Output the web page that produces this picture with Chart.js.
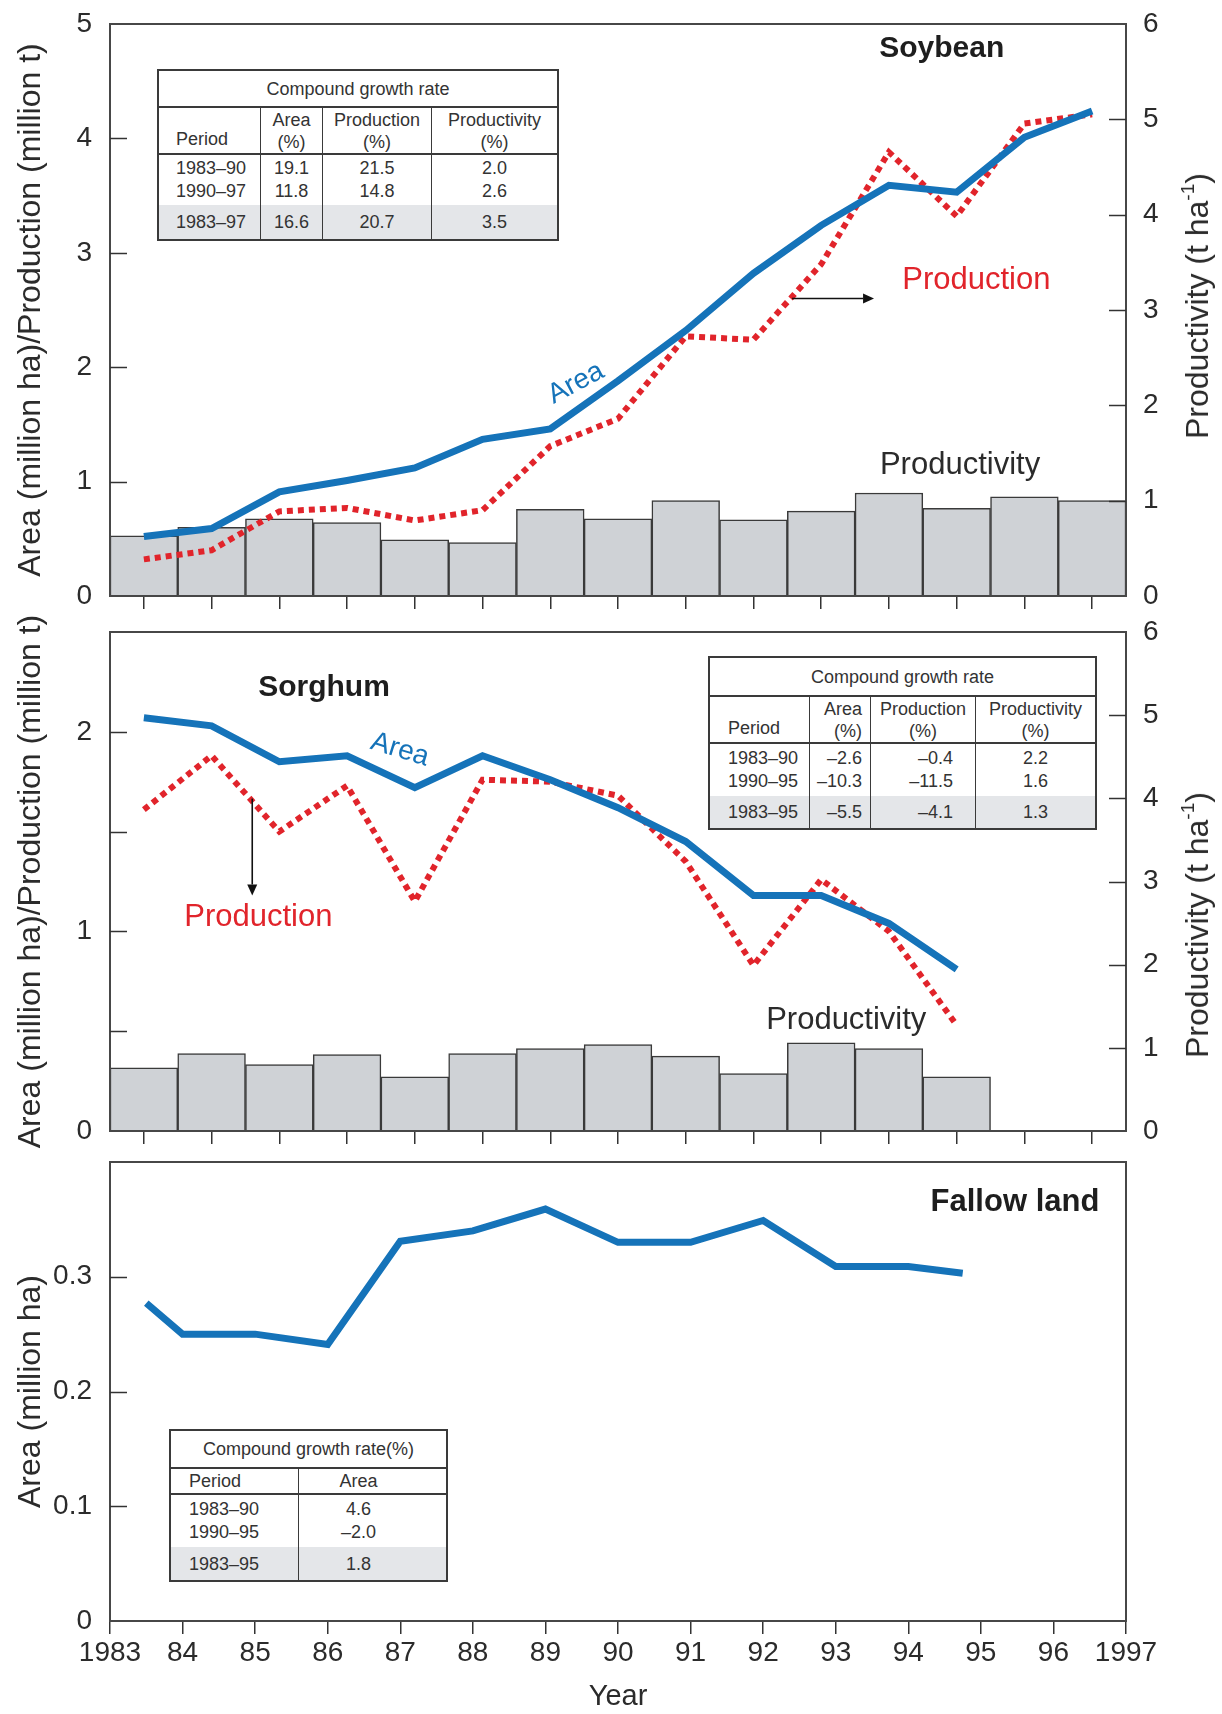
<!DOCTYPE html>
<html>
<head>
<meta charset="utf-8">
<title>Soybean, sorghum and fallow land, 1983–1997</title>
<script src="https://cdn.jsdelivr.net/npm/chart.js@4.4.1/dist/chart.umd.min.js"></script>
<style>
  html, body { margin: 0; padding: 0; background: #fff; }
  #page { position: relative; width: 1222px; height: 1714px; overflow: hidden;
          font-family: "Liberation Sans", Arial, Helvetica, sans-serif; color: #2b2b2b; }
  .panel { position: absolute; left: 0; width: 1222px; }
  .panel canvas { position: absolute; left: 0; top: 0; }
  .rtitle { position: absolute; transform: translate(-50%, -50%) rotate(-90deg);
            white-space: nowrap; font-size: 32px; color: #2b2b2b; line-height: 1; }
  .rtitle sup { font-size: 19px; vertical-align: 0; position: relative; top: -14px; }
  .cgr { position: absolute; display: grid; box-sizing: border-box; background: #fff;
         border: 2px solid #3a3a3a; font-size: 18px; color: #333; line-height: 22px; }
  .cgr > div { box-sizing: border-box; display: flex; flex-direction: column;
               justify-content: center; white-space: nowrap; }
  .cgr .ttl { align-items: center; border-bottom: 2px solid #3a3a3a; }
  .cgr .hd { border-bottom: 2px solid #3a3a3a; }
  .cgr .vl { border-left: 1.5px solid #3a3a3a; }
  .cgr .tot { background: #e4e6e9; }
  .cgr .dat { line-height: 23px; }
</style>
</head>
<body>
<div id="page">
  <div class="panel" style="top:0;height:625px"><canvas id="soy" width="1222" height="625"></canvas></div>
  <div class="panel" style="top:610px;height:550px"><canvas id="sor" width="1222" height="550"></canvas></div>
  <div class="panel" style="top:1140px;height:574px"><canvas id="fal" width="1222" height="574"></canvas></div>
  <div class="rtitle" style="left:1197px;top:306px">Productivity (t ha<sup>-1</sup>)</div>
  <div class="rtitle" style="left:1197px;top:925px">Productivity (t ha<sup>-1</sup>)</div>
</div>
<script>
// ---- data ----------------------------------------------------------------
const yearLabels = ['1983','1984','1985','1986','1987','1988','1989','1990',
                    '1991','1992','1993','1994','1995','1996','1997'];

// Soybean: area (million ha), production (million t), productivity (t/ha)
const soyArea         = [0.52, 0.59, 0.91, 1.01, 1.12, 1.37, 1.46, 1.88, 2.32, 2.82, 3.24, 3.59, 3.53, 4.01, 4.24];
const soyProduction   = [0.32, 0.40, 0.74, 0.77, 0.66, 0.75, 1.31, 1.55, 2.27, 2.24, 2.90, 3.88, 3.32, 4.13, 4.21];
const soyProductivity = [0.63, 0.72, 0.81, 0.77, 0.59, 0.56, 0.91, 0.81, 1.00, 0.80, 0.89, 1.08, 0.92, 1.04, 1.00];

// Sorghum, 1983–1995
const sorArea         = [2.07, 2.03, 1.85, 1.88, 1.72, 1.88, 1.76, 1.62, 1.45, 1.18, 1.18, 1.04, 0.81];
const sorProduction   = [1.61, 1.88, 1.50, 1.73, 1.15, 1.76, 1.75, 1.68, 1.35, 0.83, 1.26, 1.00, 0.53];
const sorProductivity = [0.76, 0.93, 0.80, 0.92, 0.65, 0.93, 0.99, 1.04, 0.90, 0.69, 1.06, 0.99, 0.65];

// Fallow land area (million ha)
const fallowYears = [1983.5, 1984, 1985, 1986, 1987, 1988, 1989, 1990, 1991, 1992, 1993, 1994, 1994.75];
const fallowArea  = [0.277, 0.250, 0.250, 0.241, 0.331, 0.340, 0.359, 0.330, 0.330, 0.349, 0.309, 0.309, 0.303];
const yearTickLabels = ['1983','84','85','86','87','88','89','90','91','92','93','94','95','96','1997'];

// Compound growth rate tables
const soyGrowthHead  = [['Period'], ['Area','(%)'], ['Production','(%)'], ['Productivity','(%)']];
const soyGrowthRows  = [['1983–90','19.1','21.5','2.0'], ['1990–97','11.8','14.8','2.6']];
const soyGrowthTotal = ['1983–97','16.6','20.7','3.5'];

const sorGrowthHead  = [['Period'], ['Area','(%)'], ['Production','(%)'], ['Productivity','(%)']];
const sorGrowthRows  = [['1983–90','–2.6','–0.4','2.2'], ['1990–95','–10.3','–11.5','1.6']];
const sorGrowthTotal = ['1983–95','–5.5','–4.1','1.3'];

const fallowGrowthHead  = [['Period'], ['Area']];
const fallowGrowthRows  = [['1983–90','4.6'], ['1990–95','–2.0']];
const fallowGrowthTotal = ['1983–95','1.8'];

// ---- styling ---------------------------------------------------------------
const FONT  = '"Liberation Sans", Arial, Helvetica, sans-serif';
const INK   = '#2b2b2b';
const BLUE  = '#1573b9';
const RED   = '#e1242b';
const GRAY  = '#cfd2d6';
const EDGE  = '#3a3a3a';
Chart.defaults.font.family = FONT;
Chart.defaults.color = INK;

// fixed axis sizes so every panel shares the same plot box
function fixWidth(w) {
  return s => { s.width = w; s.paddingTop = 0; s.paddingBottom = 0; };
}
function fixHeight(h) {
  return s => { s.height = h; s.paddingLeft = 0; s.paddingRight = 0; };
}

// box around the plot area plus inward-pointing y ticks
const framePlugin = {
  id: 'frame',
  afterDatasetsDraw(chart) {
    const { ctx, chartArea: { left, right, top, bottom } } = chart;
    ctx.save();
    ctx.strokeStyle = '#474747';
    ctx.lineWidth = 2;
    ctx.strokeRect(left, top, right - left, bottom - top);
    ctx.strokeStyle = '#333';
    ctx.lineWidth = 1.5;
    ['y', 'y1'].forEach(id => {
      const s = chart.scales[id];
      if (!s) return;
      s.ticks.forEach((t, i) => {
        const py = Math.round(s.getPixelForTick(i)) + 0.5;
        if (py <= top + 2 || py >= bottom - 2) return;
        ctx.beginPath();
        if (s.position === 'left') { ctx.moveTo(left, py); ctx.lineTo(left + 17, py); }
        else { ctx.moveTo(right - 17, py); ctx.lineTo(right, py); }
        ctx.stroke();
      });
    });
    ctx.restore();
  }
};

// series labels and pointer arrows, placed in data coordinates
function notesPlugin(items) {
  return {
    id: 'notes',
    afterDatasetsDraw(chart) {
      const ctx = chart.ctx, xs = chart.scales.x, ys = chart.scales.y;
      items.forEach(n => {
        ctx.save();
        if (n.arrow) {
          const [x1, y1, x2, y2] = n.arrow;
          const ax = xs.getPixelForValue(x1), ay = ys.getPixelForValue(y1);
          const bx = xs.getPixelForValue(x2), by = ys.getPixelForValue(y2);
          const ang = Math.atan2(by - ay, bx - ax), head = 11;
          ctx.strokeStyle = '#111'; ctx.fillStyle = '#111'; ctx.lineWidth = 1.6;
          ctx.beginPath(); ctx.moveTo(ax, ay);
          ctx.lineTo(bx - head * Math.cos(ang), by - head * Math.sin(ang)); ctx.stroke();
          ctx.beginPath(); ctx.moveTo(bx, by);
          ctx.lineTo(bx - head * Math.cos(ang) + 5 * Math.sin(ang), by - head * Math.sin(ang) - 5 * Math.cos(ang));
          ctx.lineTo(bx - head * Math.cos(ang) - 5 * Math.sin(ang), by - head * Math.sin(ang) + 5 * Math.cos(ang));
          ctx.closePath(); ctx.fill();
        } else {
          ctx.translate(xs.getPixelForValue(n.x), ys.getPixelForValue(n.y));
          ctx.rotate((n.angle || 0) * Math.PI / 180);
          ctx.font = `${n.weight || 'normal'} ${n.size}px ${FONT}`;
          ctx.fillStyle = n.color || INK;
          ctx.textAlign = 'center';
          ctx.textBaseline = 'middle';
          ctx.fillText(n.text, 0, 0);
        }
        ctx.restore();
      });
    }
  };
}

const tickFont  = { size: 28, family: FONT };
const titleFont = { size: 32, family: FONT };

function cropChart(id, cfg) {
  return new Chart(document.getElementById(id), {
    type: 'bar',
    data: {
      labels: yearLabels,
      datasets: [
        { type: 'line', label: 'Area', data: cfg.area, yAxisID: 'y', order: 0,
          borderColor: BLUE, borderWidth: 7, pointRadius: 0, tension: 0, fill: false },
        { type: 'line', label: 'Production', data: cfg.production, yAxisID: 'y', order: 1,
          borderColor: RED, borderWidth: 6, borderDash: [6, 5], pointRadius: 0, tension: 0, fill: false },
        { type: 'bar', label: 'Productivity', data: cfg.productivity, yAxisID: 'y1', order: 2,
          backgroundColor: GRAY, borderColor: EDGE, borderWidth: 1.5,
          barPercentage: 1, categoryPercentage: 1 }
      ]
    },
    options: {
      responsive: false, animation: false, events: [],
      layout: { padding: { top: cfg.padTop, left: 0, right: 0, bottom: 0 } },
      plugins: { legend: { display: false }, tooltip: { enabled: false } },
      scales: {
        x: {
          type: 'category', offset: true,
          grid: { offset: false, drawOnChartArea: false, drawTicks: true, tickLength: 13, color: '#333', lineWidth: 1.5 },
          border: { display: false },
          ticks: { display: false },
          afterFit: fixHeight(29)
        },
        y: {
          position: 'left', min: 0, max: cfg.leftMax,
          ticks: { stepSize: cfg.leftStep, padding: 18, font: tickFont, color: INK,
                   callback: v => Number.isInteger(v) ? String(v) : '' },
          grid: { display: false, drawTicks: false },
          border: { display: false },
          title: { display: true, text: 'Area (million ha)/Production (million t)',
                   font: titleFont, color: INK, padding: { top: 12, bottom: 0 } },
          afterFit: fixWidth(110)
        },
        y1: {
          position: 'right', min: 0, max: 6,
          ticks: { stepSize: 1, padding: 17, font: tickFont, color: INK },
          grid: { display: false, drawTicks: false },
          border: { display: false },
          afterFit: fixWidth(96)
        }
      }
    },
    plugins: [framePlugin, notesPlugin(cfg.notes)]
  });
}

cropChart('soy', {
  area: soyArea, production: soyProduction, productivity: soyProductivity,
  padTop: 24, leftMax: 5, leftStep: 1,
  notes: [
    { text: 'Soybean', x: 11.78, y: 4.78, size: 30, weight: 'bold', color: '#1e1e1e' },
    { text: 'Area', x: 6.38, y: 1.86, size: 28, color: BLUE, angle: -28 },
    { text: 'Production', x: 12.29, y: 2.76, size: 31, color: RED },
    { arrow: [9.57, 2.6, 10.78, 2.6] },
    { text: 'Productivity', x: 12.05, y: 1.145, size: 31, color: INK }
  ]
});

cropChart('sor', {
  area: sorArea, production: sorProduction, productivity: sorProductivity,
  padTop: 22, leftMax: 2.5, leftStep: 0.5,
  notes: [
    { text: 'Sorghum', x: 2.66, y: 2.22, size: 30, weight: 'bold', color: '#1e1e1e' },
    { text: 'Area', x: 3.78, y: 1.91, size: 28, color: BLUE, angle: 17 },
    { text: 'Production', x: 1.69, y: 1.07, size: 31, color: RED },
    { arrow: [1.60, 1.665, 1.60, 1.18] },
    { text: 'Productivity', x: 10.37, y: 0.553, size: 31, color: INK }
  ]
});

new Chart(document.getElementById('fal'), {
  type: 'line',
  data: {
    datasets: [{
      label: 'Fallow land',
      data: fallowYears.map((x, i) => ({ x, y: fallowArea[i] })),
      borderColor: BLUE, borderWidth: 7, pointRadius: 0, tension: 0, fill: false
    }]
  },
  options: {
    responsive: false, animation: false, events: [],
    layout: { padding: { top: 22, left: 0, right: 96, bottom: 0 } },
    plugins: { legend: { display: false }, tooltip: { enabled: false } },
    scales: {
      x: {
        type: 'linear', min: 1983, max: 1997,
        ticks: { stepSize: 1, autoSkip: false, maxRotation: 0, padding: 2, font: tickFont, color: INK,
                 callback: v => yearTickLabels[Math.round(v) - 1983] },
        grid: { drawOnChartArea: false, drawTicks: true, tickLength: 13, color: '#333', lineWidth: 1.5 },
        border: { display: false },
        title: { display: true, text: 'Year', font: { size: 29, family: FONT }, color: INK, padding: { top: 0, bottom: 0 } },
        afterFit: fixHeight(93)
      },
      y: {
        position: 'left', min: 0, max: 0.4,
        ticks: { stepSize: 0.1, padding: 18, font: tickFont, color: INK,
                 callback: v => (v > 0.39 ? '' : (v === 0 ? '0' : v.toFixed(1))) },
        grid: { display: false, drawTicks: false },
        border: { display: false },
        title: { display: true, text: 'Area (million ha)', font: titleFont, color: INK,
                 padding: { top: 12, bottom: 0 } },
        afterFit: fixWidth(110)
      }
    }
  },
  plugins: [framePlugin, notesPlugin([
    { text: 'Fallow land', x: 1995.47, y: 0.365, size: 31, weight: 'bold', color: '#1e1e1e' }
  ])]
});

// ---- growth-rate tables ----------------------------------------------------
function growthTable(spec) {
  const el = document.createElement('div');
  el.className = 'cgr';
  el.style.left = spec.left + 'px';
  el.style.top = spec.top + 'px';
  el.style.gridTemplateColumns = spec.cols.map(w => w + 'px').join(' ');
  el.style.gridTemplateRows = spec.rows.map(h => h + 'px').join(' ');
  const cell = (html, cls, style) => {
    const c = document.createElement('div');
    c.className = cls; c.innerHTML = html;
    Object.assign(c.style, style || {});
    el.appendChild(c);
    return c;
  };
  const place = (i) => {
    const a = spec.align[i];
    if (a === 'left') return { alignItems: 'flex-start', textAlign: 'left', paddingLeft: spec.padL + 'px' };
    if (a === 'right') return { alignItems: 'flex-end', textAlign: 'right', paddingRight: spec.padR[i] + 'px' };
    return { alignItems: 'center', textAlign: 'center', paddingRight: (spec.shift && spec.shift[i] || 0) + 'px' };
  };
  const t = cell(spec.title, 'ttl');
  t.style.gridColumn = '1 / -1';
  spec.head.forEach((lines, i) => {
    const st = i === 0 ? { alignItems: 'flex-start', paddingLeft: spec.padL + 'px', justifyContent: 'flex-end', paddingBottom: spec.headPadB + 'px' }
                       : Object.assign(place(i), spec.headAlign ? spec.headAlign(i) : {});
    cell(lines.join('<br>'), 'hd' + (i ? ' vl' : ''), st);
  });
  spec.head.forEach((_, i) => {
    cell(spec.body.map(r => r[i]).join('<br>'), 'dat' + (i ? ' vl' : ''), place(i));
  });
  spec.head.forEach((_, i) => {
    cell(spec.total[i], 'tot' + (i ? ' vl' : ''), place(i));
  });
  document.getElementById('page').appendChild(el);
}

growthTable({
  left: 157, top: 69, cols: [101, 62, 109, 126], rows: [37, 47, 50, 34],
  title: 'Compound growth rate', head: soyGrowthHead, body: soyGrowthRows, total: soyGrowthTotal,
  align: ['left', 'center', 'center', 'center'], padL: 17, headPadB: 3
});

growthTable({
  left: 708, top: 656, cols: [99, 61, 105, 120], rows: [39, 47, 52, 32],
  title: 'Compound growth rate', head: sorGrowthHead, body: sorGrowthRows, total: sorGrowthTotal,
  align: ['left', 'right', 'right', 'center'], padL: 18, padR: [0, 8, 22, 0], headPadB: 3,
  headAlign: i => (i === 2 ? { alignItems: 'center', textAlign: 'center', paddingRight: '0px' } : {})
});

growthTable({
  left: 169, top: 1429, cols: [127, 148], rows: [38, 26, 52, 33],
  title: 'Compound growth rate(%)', head: fallowGrowthHead, body: fallowGrowthRows, total: fallowGrowthTotal,
  align: ['left', 'center'], padL: 18, headPadB: 1, shift: [0, 28]
});
</script>
</body>
</html>
